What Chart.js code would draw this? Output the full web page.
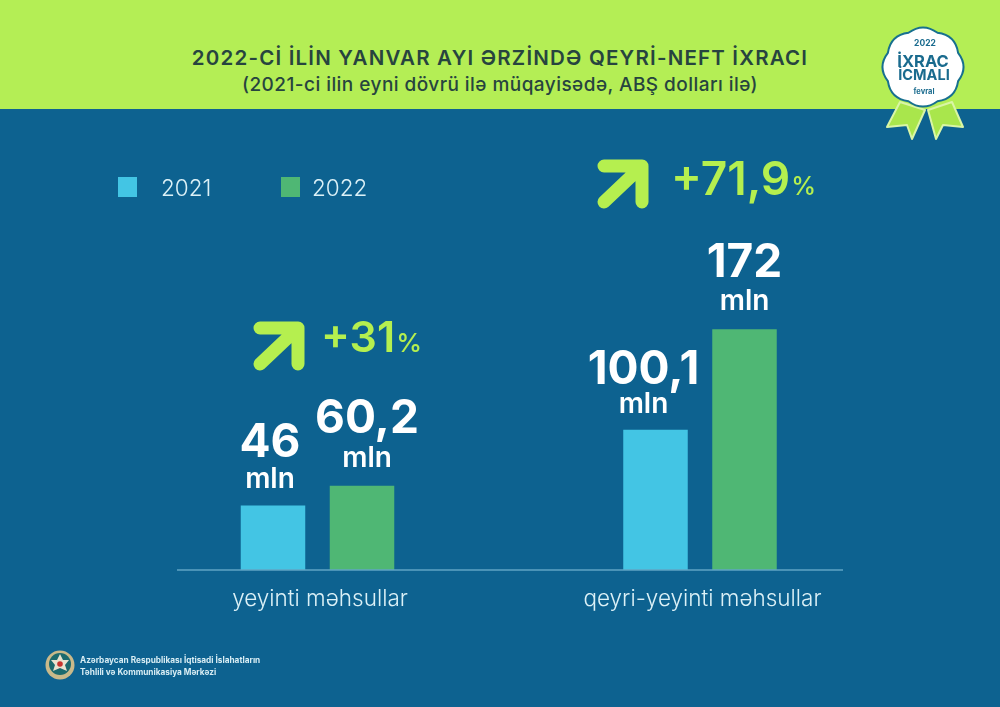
<!DOCTYPE html>
<html lang="az">
<head>
<meta charset="utf-8">
<title>Qeyri-neft ixracı</title>
<script src="https://cdn.jsdelivr.net/npm/chart.js@4"></script>
<style>
    html, body { margin: 0; padding: 0; }
    body { width: 1000px; height: 707px; overflow: hidden; position: relative; background: #0d6290; font-family: Inter, "Noto Sans", sans-serif; }
    #band { position: absolute; left: 0; top: 0; width: 1000px; height: 109px; background: #b4ee55; }
    #chart { position: absolute; left: 0; top: 0; }
    .head { position: absolute; left: 0; width: 1000px; text-align: center; color: #27443f; white-space: nowrap; }
    #title { top: 45px; font-size: 20.5px; font-weight: 600; line-height: 26px; letter-spacing: 1.2px; }
    #subtitle { top: 72px; font-size: 19px; font-weight: 500; line-height: 26px; letter-spacing: 0.45px; }
    #legend div { position: absolute; top: 177px; width: 19px; height: 20px; }
    #legend span { position: absolute; top: 174px; font-size: 22.5px; font-weight: 300; line-height: 28px; color: #dcf1f7; }
    .pct { position: absolute; color: #b5ef4f; font-weight: 600; white-space: nowrap; }
    .pct small { font-weight: 500; margin-left: 1px; }
    #foot { position: absolute; left: 80px; top: 655px; font-size: 8.25px; font-weight: 700; line-height: 11.5px; color: #d8edf4; white-space: nowrap; }
    svg { position: absolute; left: 0; top: 0; }
</style>
</head>
<body>
<div id="band"></div>
<div id="title" class="head">2022-Cİ İLİN YANVAR AYI ƏRZİNDƏ QEYRİ-NEFT İXRACI</div>
<div id="subtitle" class="head">(2021-ci ilin eyni dövrü ilə müqayisədə, ABŞ dolları ilə)</div>
<canvas id="chart" width="1000" height="707"></canvas>
<div id="legend"></div>

<svg width="1000" height="707" viewBox="0 0 1000 707">
    <!-- growth arrows -->
    <g fill="none" stroke="#b5ef4f" stroke-width="13" stroke-linecap="round" stroke-linejoin="round">
        <path d="M260 328H298V364M298 328L260 364"/>
        <path d="M604 166H642V202M642 166L604 202"/>
    </g>
    <!-- badge -->
    <g fill="#a9e64c" stroke="#d9f5a6" stroke-width="2" stroke-linejoin="round">
        <path d="M900 102L887 127L907 125L912 139L925 110Z"/>
        <path d="M928 110L936 139L943 125L963 127L952 102Z"/>
    </g>
    <path id="seal" fill="#fff" stroke="#17708f" stroke-width="2"/>
    <g text-anchor="middle" fill="#1a6b8e" font-family="Inter, sans-serif" font-weight="700">
        <text x="925" y="46" font-size="8.5">2022</text>
        <text x="923" y="67" font-size="16.5">İXRAC</text>
        <text x="924" y="80" font-size="14.5">İCMALI</text>
        <text x="924" y="94" font-size="7.5">fevral</text>
    </g>
    <!-- emblem -->
    <circle cx="60" cy="665" r="14.5" fill="#c9b98a"/>
    <circle cx="60" cy="664" r="11" fill="#1c6a6e"/>
    <path d="M60 654L63 660L69 660L65 665L67 671L60 668L53 671L55 665L51 660L57 660Z" fill="#e9e3cf"/>
    <circle cx="60" cy="664" r="2.8" fill="#c8352f"/>
</svg>

<div class="pct" style="left:321px;top:313px;font-size:43px;line-height:46px">+31<small style="font-size:26px">%</small></div>
<div class="pct" style="left:671px;top:153px;font-size:46px;line-height:50px">+71,9<small style="font-size:25px">%</small></div>
<div id="foot">Azərbaycan Respublikası İqtisadi İslahatların<br>Təhlili və Kommunikasiya Mərkəzi</div>

<script>
// Chart data (mln USD)
const categories = ['yeyinti məhsullar', 'qeyri-yeyinti məhsullar'];
const years = ['2021', '2022'];
const values2021 = [46, 100.1];
const values2022 = [60.2, 172];
const barColors = ['#43c5e4', '#4fb774'];

// number + "mln" above each bar, offsets follow the poster
const labelShiftX = [[-3, -12], [5, 0]];
const numberLift = [[49, 46], [53, 52]];
const mlnLift = [[18, 17], [19, 19]];
const valueLabels = {
    id: 'valueLabels',
    afterDatasetsDraw(chart) {
        const ctx = chart.ctx;
        ctx.save();
        ctx.fillStyle = '#ffffff';
        ctx.textAlign = 'center';
        ctx.textBaseline = 'alphabetic';
        chart.data.datasets.forEach((ds, d) => {
            chart.getDatasetMeta(d).data.forEach((bar, i) => {
                const x = bar.x + labelShiftX[d][i];
                ctx.font = '700 46px Inter';
                ctx.fillText(String(ds.data[i]).replace('.', ','), x, bar.y - numberLift[d][i]);
                ctx.font = '600 28px Inter';
                ctx.fillText('mln', x, bar.y - mlnLift[d][i]);
            });
        });
        ctx.restore();
    }
};

// base line is shorter than the plot area
const baseLine = {
    id: 'baseLine',
    afterDatasetsDraw(chart) {
        const ctx = chart.ctx;
        const y = chart.scales.y.getPixelForValue(0);
        ctx.save();
        ctx.strokeStyle = '#5fa5c4';
        ctx.lineWidth = 1.5;
        ctx.beginPath();
        ctx.moveTo(177, y);
        ctx.lineTo(843, y);
        ctx.stroke();
        ctx.restore();
    }
};

// Bars
const chart = new Chart(document.getElementById('chart').getContext('2d'), {
    type: 'bar',
    data: {
        labels: categories,
        datasets: [
            { label: years[0], data: values2021, backgroundColor: barColors[0] },
            { label: years[1], data: values2022, backgroundColor: barColors[1] }
        ]
    },
    options: {
        responsive: false,
        animation: false,
        categoryPercentage: 0.4654,
        barPercentage: 0.7247,
        layout: { padding: { left: 126.25, right: 108.75, top: 290, bottom: 0 } },
        plugins: { legend: { display: false }, tooltip: { enabled: false }, title: { display: false } },
        scales: {
            x: {
                grid: { display: false },
                border: { display: false },
                afterFit(scale) { scale.height = 137; },
                ticks: {
                    color: '#dcf1f7',
                    padding: 8,
                    labelOffset: 2.5,
                    maxRotation: 0,
                    font: { family: 'Inter', size: 22.5, weight: '300' }
                }
            },
            y: { display: false, min: 0, max: 200 }
        }
    },
    plugins: [valueLabels, baseLine]
});

// Legend built from the datasets
const legend = document.getElementById('legend');
const legendX = [[118, 161], [281, 312]];
chart.data.datasets.forEach((ds, i) => {
    const box = document.createElement('div');
    box.style.left = legendX[i][0] + 'px';
    box.style.background = ds.backgroundColor;
    const txt = document.createElement('span');
    txt.style.left = legendX[i][1] + 'px';
    txt.textContent = ds.label;
    legend.append(box, txt);
});

// Scalloped badge outline
let seal = '';
for (let i = 0; i < 8; i++) {
    const a0 = (i - 0.5) * Math.PI / 4 - Math.PI / 2, a1 = a0 + Math.PI / 8, a2 = a0 + Math.PI / 4;
    const p0 = [923 + 38 * Math.cos(a0), 67 + 37 * Math.sin(a0)];
    const c = [923 + 46 * Math.cos(a1), 67 + 45 * Math.sin(a1)];
    const p2 = [923 + 38 * Math.cos(a2), 67 + 37 * Math.sin(a2)];
    if (i === 0) seal += 'M' + p0[0] + ' ' + p0[1];
    seal += 'Q' + c[0] + ' ' + c[1] + ' ' + p2[0] + ' ' + p2[1];
}
document.getElementById('seal').setAttribute('d', seal + 'Z');
</script>
</body>
</html>
